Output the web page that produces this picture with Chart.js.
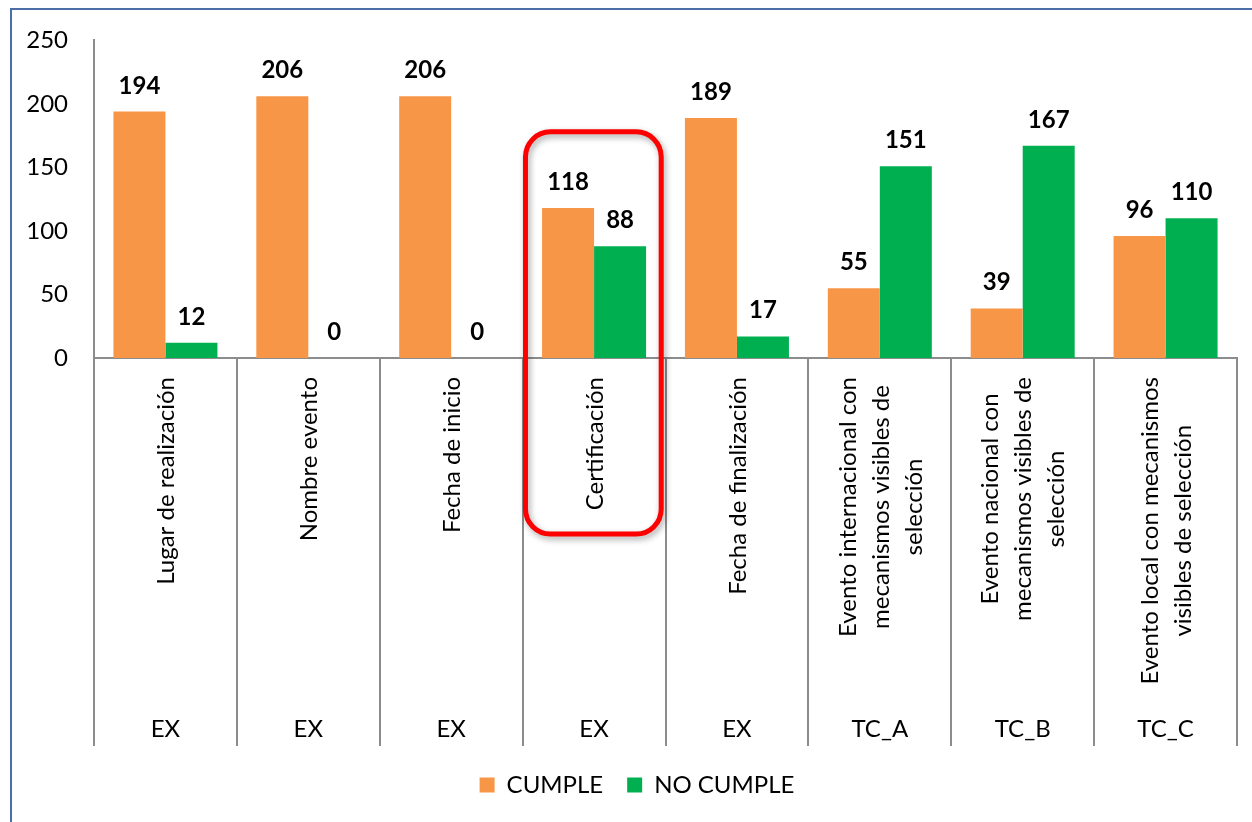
<!DOCTYPE html>
<html><head><meta charset="utf-8">
<script src="https://cdn.jsdelivr.net/npm/chart.js@4.4.1/dist/chart.umd.min.js"></script>
<style>html,body{margin:0;padding:0;background:#fff;overflow:hidden}canvas{display:block}</style>
</head><body><canvas id="c" width="1252" height="822"></canvas>
<script>
const categories = [
  "Lugar de realización",
  "Nombre evento",
  "Fecha de inicio",
  "Certificación",
  "Fecha de finalización",
  ["Evento internacional con", "mecanismos visibles de", "selección"],
  ["Evento nacional con", "mecanismos visibles de", "selección"],
  ["Evento local con mecanismos", "visibles de selección"]
];
const groups = ["EX", "EX", "EX", "EX", "EX", "TC_A", "TC_B", "TC_C"];
const seriesNames = ["CUMPLE", "NO CUMPLE"];
const cumple = [194, 206, 206, 118, 189, 55, 39, 96];
const noCumple = [12, 0, 0, 88, 17, 151, 167, 110];
const yTicks = [0, 50, 100, 150, 200, 250];
const highlightIndex = 3;

const FONT = 'Lato, "Open Sans", sans-serif';
const AXIS_COLOR = '#8C8C8C';

const framePlugin = {
  id: 'frame',
  beforeDraw(chart) {
    const ctx = chart.ctx;
    ctx.save();
    ctx.fillStyle = '#fff';
    ctx.fillRect(0, 0, chart.width, chart.height);
    ctx.strokeStyle = '#4A6EA5';
    ctx.lineWidth = 2;
    ctx.beginPath();
    ctx.moveTo(11, 840);
    ctx.lineTo(11, 9);
    ctx.lineTo(1270, 9);
    ctx.stroke();
    ctx.restore();
  }
};

const labelsPlugin = {
  id: 'catLabels',
  afterDraw(chart) {
    const ctx = chart.ctx;
    const xs = chart.scales.x;
    const ys = chart.scales.y;
    ctx.save();
    ctx.fillStyle = '#000';
    categories.forEach((lab, i) => {
      const lines = Array.isArray(lab) ? lab : [lab];
      const cx = xs.getPixelForValue(i);
      ctx.font = '24px ' + FONT;
      const maxW = Math.max(...lines.map(l => ctx.measureText(l).width));
      ctx.save();
      ctx.translate(cx + 1, xs.top + 19 + maxW / 2);
      ctx.rotate(-Math.PI / 2);
      ctx.textAlign = 'center';
      ctx.textBaseline = 'middle';
      lines.forEach((l, j) => ctx.fillText(l, 0, (j - (lines.length - 1) / 2) * 33));
      ctx.restore();
      ctx.textAlign = 'center';
      ctx.textBaseline = 'alphabetic';
      ctx.fillText(groups[i], cx, xs.top + 379);
    });
    ctx.font = 'bold 24px ' + FONT;
    ctx.textAlign = 'center';
    ctx.textBaseline = 'alphabetic';
    chart.data.datasets.forEach((ds, di) => {
      const meta = chart.getDatasetMeta(di);
      meta.data.forEach((bar, i) => {
        ctx.fillText(String(ds.data[i]), bar.x, bar.y - 18);
      });
    });
    const cw = xs.getPixelForValue(1) - xs.getPixelForValue(0);
    const hx = xs.getPixelForValue(highlightIndex);
    const left = hx - cw * 0.48;
    const right = hx + cw * 0.47;
    const top = ys.getPixelForValue(178);
    const bottom = xs.top + 176;
    ctx.shadowColor = 'rgba(0,0,0,0.35)';
    ctx.shadowBlur = 6;
    ctx.shadowOffsetX = 2;
    ctx.shadowOffsetY = 3;
    ctx.strokeStyle = '#FF0000';
    ctx.lineWidth = 5;
    ctx.beginPath();
    ctx.roundRect(left, top, right - left, bottom - top, 25);
    ctx.stroke();
    ctx.restore();
  }
};

new Chart(document.getElementById('c'), {
  type: 'bar',
  data: {
    labels: categories,
    datasets: [
      { label: seriesNames[0], data: cumple, backgroundColor: '#F79646', borderWidth: 0 },
      { label: seriesNames[1], data: noCumple, backgroundColor: '#00B050', borderWidth: 0 }
    ]
  },
  options: {
    responsive: false,
    animation: false,
    devicePixelRatio: 1,
    layout: { padding: { left: 22, right: 0, top: 38, bottom: 15 } },
    datasets: { bar: { categoryPercentage: 0.728, barPercentage: 1.0 } },
    plugins: {
      legend: {
        position: 'bottom',
        labels: { boxWidth: 15, boxHeight: 15, padding: 24, color: '#000', font: { family: FONT, size: 24 } }
      },
      tooltip: { enabled: false },
      title: { display: false }
    },
    scales: {
      x: {
        grid: { display: true, drawOnChartArea: false, drawTicks: true, tickLength: 388, offset: true, color: AXIS_COLOR, lineWidth: 2 },
        border: { display: true, color: AXIS_COLOR, width: 2 },
        ticks: { display: false },
        afterFit(s) { s.height = 391; }
      },
      y: {
        min: 0, max: 250,
        afterBuildTicks(s) { s.ticks = yTicks.map(v => ({ value: v })); },
        ticks: { padding: 26, color: '#000', font: { family: FONT, size: 24 } },
        grid: { display: false, drawTicks: false },
        border: { display: true, color: AXIS_COLOR, width: 2 },
        afterFit(s) { s.width = 72; }
      },
      yRight: {
        position: 'right',
        display: true,
        grid: { display: false, drawTicks: false },
        border: { display: false },
        ticks: { display: false },
        afterFit(s) { s.width = 15; }
      }
    }
  },
  plugins: [framePlugin, labelsPlugin]
});
</script>
</body></html>
